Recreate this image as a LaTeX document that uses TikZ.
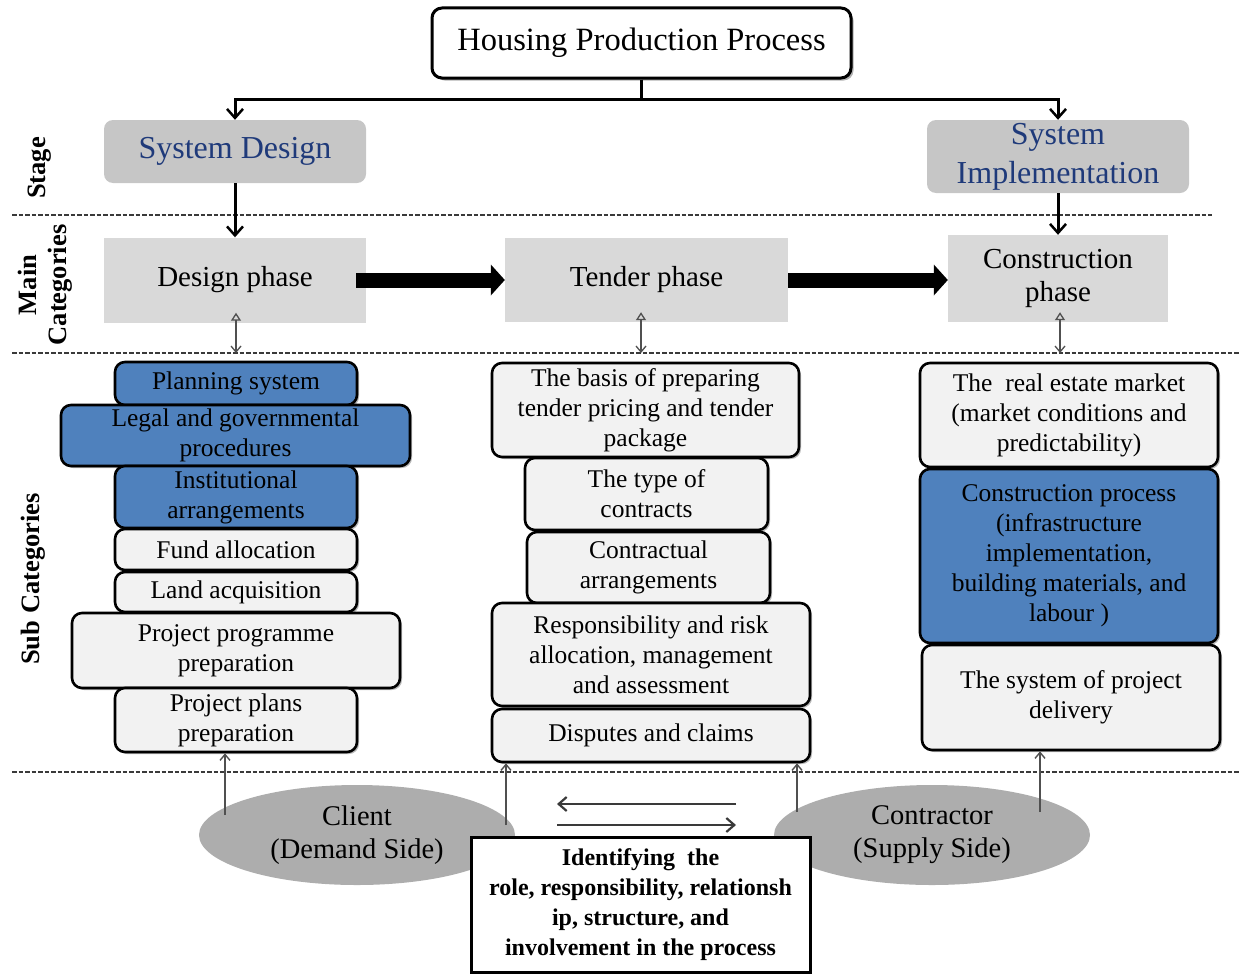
\documentclass[tikz,border=0pt]{standalone}
\usepackage{fontspec}
\setmainfont{Liberation Serif}
\usetikzlibrary{arrows.meta,shadows,shapes.geometric,calc}

\definecolor{navytext}{HTML}{1F3A7A}
\definecolor{hiblue}{HTML}{4F81BD}
\definecolor{lightfill}{HTML}{F2F2F2}
\definecolor{phasegray}{HTML}{D9D9D9}
\definecolor{stagegray}{HTML}{C6C6C6}
\definecolor{actorgray}{HTML}{ADADAD}
\definecolor{rulegray}{HTML}{3A3A3A}
\definecolor{linkgray}{HTML}{505050}

\newcommand{\fsz}[2]{\fontsize{#1}{#2}\selectfont}

\begin{document}
\begin{tikzpicture}[x=1pt,y=-1pt,
  every node/.style={inner sep=1pt, align=center},
  titlebox/.style={draw, line width=3pt, rounded corners=10pt, fill=white,
    drop shadow={shadow xshift=2.5pt, shadow yshift=-2.5pt, fill=black!60},
    font=\fsz{32.5}{38}},
  stagebox/.style={fill=stagegray, rounded corners=9pt, text=navytext, font=\fsz{32}{39}},
  phasebox/.style={fill=phasegray, font=\fsz{29}{33}},
  subbox/.style={draw, line width=2.6pt, rounded corners=10pt, fill=lightfill,
    drop shadow={shadow xshift=2pt, shadow yshift=-2pt, fill=black!55},
    font=\fsz{25.5}{30}},
  hibox/.style={subbox, fill=hiblue},
  sidelabel/.style={rotate=90, font=\bfseries\fsz{26.5}{30}},
  actor/.style={ellipse, fill=actorgray, font=\fsz{28.5}{33}},
  rolebox/.style={draw, line width=3pt, fill=white, font=\bfseries\fsz{24}{30}},
  tree/.style={line width=3pt, -{Straight Barb[length=9pt,width=16pt,line width=2.5pt]}},
  flow/.style={line width=15pt, -{Triangle[length=14pt,width=31pt,line width=0pt]}},
  link/.style={line width=1.6pt, draw=linkgray,
    {Triangle[open,length=8pt,width=10pt,line width=1.3pt]}-{Straight Barb[length=6pt,width=10pt,line width=1.3pt]}},
  feed/.style={line width=1.6pt, draw=linkgray, -{Straight Barb[length=6pt,width=10pt,line width=1.4pt]}},
  swap/.style={line width=2.6pt, draw=rulegray, -{Straight Barb[length=8pt,width=14pt,line width=2.2pt]}},
  divider/.style={line width=2.6pt, draw=rulegray, dash pattern=on 4.5pt off 2pt}
]
\useasboundingbox (0,0) rectangle (1246,974);

% level dividers
\coordinate (r1a) at (12,215);  \coordinate (r1b) at (1212,215);
\coordinate (r2a) at (12,353);  \coordinate (r2b) at (1240,353);
\coordinate (r3a) at (12,772);  \coordinate (r3b) at (1240,772);
\draw[divider] (r1a) -- (r1b);
\draw[divider] (r2a) -- (r2b);
\draw[divider] (r3a) -- (r3b);

% row labels
\node[sidelabel] (lstage) at (40,168) {Stage};
\node[sidelabel] (lmain) at (45,285) {Main\\Categories};
\node[sidelabel] (lsub) at (33,579) {Sub Categories};

% top of the hierarchy
\node[titlebox, minimum width=419pt, minimum height=70pt] (title) at (641.5,43) {Housing Production Process};

% stages
\node[stagebox, minimum width=262pt, minimum height=63pt] (sysd) at (235,151.5) {System Design};
\node[stagebox, minimum width=262pt, minimum height=73pt] (sysi) at (1058,156.5) {System\\Implementation};

% main categories
\node[phasebox, minimum width=262pt, minimum height=85pt] (dp) at (235,280) {Design phase};
\node[phasebox, minimum width=283pt, minimum height=84pt] (tp) at (646.5,280) {Tender phase};
\node[phasebox, minimum width=220pt, minimum height=87pt] (cp) at (1058,278.5) {Construction\\phase};

\draw[tree] (title.south) -- ++(0,20) -| (sysd.north);
\draw[tree] (title.south) -- ++(0,20) -| (sysi.north);
\draw[tree] (sysd.south) -- (dp.north);
\draw[tree] (sysi.south) -- (cp.north);

\draw[flow] ([xshift=-10pt]dp.east) -- (tp.west);
\draw[flow] (tp.east) -- (tp.east -| cp.west);

% links from main categories down to sub categories
\coordinate (dpl) at (236,353);
\coordinate (tpl) at (641,353);
\coordinate (cpl) at (1060,353);
\draw[link] (dp.south -| dpl) ++(0,-10) -- (dpl);
\draw[link] (tp.south -| tpl) ++(0,-10) -- (tpl);
\draw[link] (cp.south -| cpl) ++(0,-10) -- (cpl);

% design sub categories
\node[hibox, minimum width=242pt, minimum height=43pt] (plan) at (236,383.5) {Planning system};
\node[hibox, minimum width=349pt, minimum height=61pt] (legal) at (235.5,435.5) {Legal and governmental\\procedures};
\node[hibox, minimum width=242pt, minimum height=62pt] (inst) at (236,497) {Institutional\\arrangements};
\node[subbox, minimum width=242pt, minimum height=41pt] (fund) at (236,549.5) {Fund allocation};
\node[subbox, minimum width=242pt, minimum height=40pt] (land) at (236,592) {Land acquisition};
\node[subbox, minimum width=328pt, minimum height=75pt] (prog) at (236,650.5) {Project programme\\preparation};
\node[subbox, minimum width=242pt, minimum height=64pt] (plans) at (236,720) {Project plans\\preparation};

% tender sub categories
\node[subbox, minimum width=307pt, minimum height=94pt] (basis) at (645.5,410) {The basis of preparing\\tender pricing and tender\\package};
\node[subbox, minimum width=243pt, minimum height=72pt] (ctype) at (646.5,494) {The type of\\contracts};
\node[subbox, minimum width=243pt, minimum height=71pt] (carr) at (648.5,567.5) {Contractual\\arrangements};
\node[subbox, minimum width=318pt, minimum height=103pt] (resp) at (651,654.5) {Responsibility and risk\\allocation, management\\and assessment};
\node[subbox, minimum width=318pt, minimum height=53pt] (disp) at (651,735.5) {Disputes and claims};

% construction sub categories
\node[subbox, minimum width=298pt, minimum height=104pt] (market) at (1069,415) {The \ real estate market\\(market conditions and\\predictability)};
\node[hibox, minimum width=298pt, minimum height=174pt] (cproc) at (1069,556) {Construction process\\(infrastructure\\implementation,\\building materials, and\\labour )};
\node[subbox, minimum width=298pt, minimum height=105pt] (deliv) at (1071,697.5) {The system of project\\delivery};

% the two parties
\node[actor, minimum width=316pt, minimum height=100pt] (client) at (357,835) {Client\\(Demand Side)};
\node[actor, minimum width=316pt, minimum height=100pt] (contractor) at (932,835) {Contractor\\(Supply Side)};

\node[rolebox, minimum width=339pt, minimum height=135pt] (roles) at (640.5,904.5)
  {Identifying \ the\\role, responsibility, relationsh\\ip, structure, and\\involvement in the process};

% parties feeding the sub categories
\coordinate (f1) at (225,815);
\coordinate (f2) at (506,825);
\coordinate (f3) at (797,812);
\coordinate (f4) at (1040,812);
\draw[feed] (f1) -- (f1 |- plans.south);
\draw[feed] (f2) -- (f2 |- disp.south);
\draw[feed] (f3) -- (f3 |- disp.south);
\draw[feed] (f4) -- (f4 |- deliv.south);

% exchange between client and contractor
\coordinate (s1) at (736,804);
\coordinate (s2) at (557,804);
\coordinate (s3) at (557,825);
\coordinate (s4) at (736,825);
\draw[swap] (s1) -- (s2);
\draw[swap] (s3) -- (s4);
\end{tikzpicture}
\end{document}
